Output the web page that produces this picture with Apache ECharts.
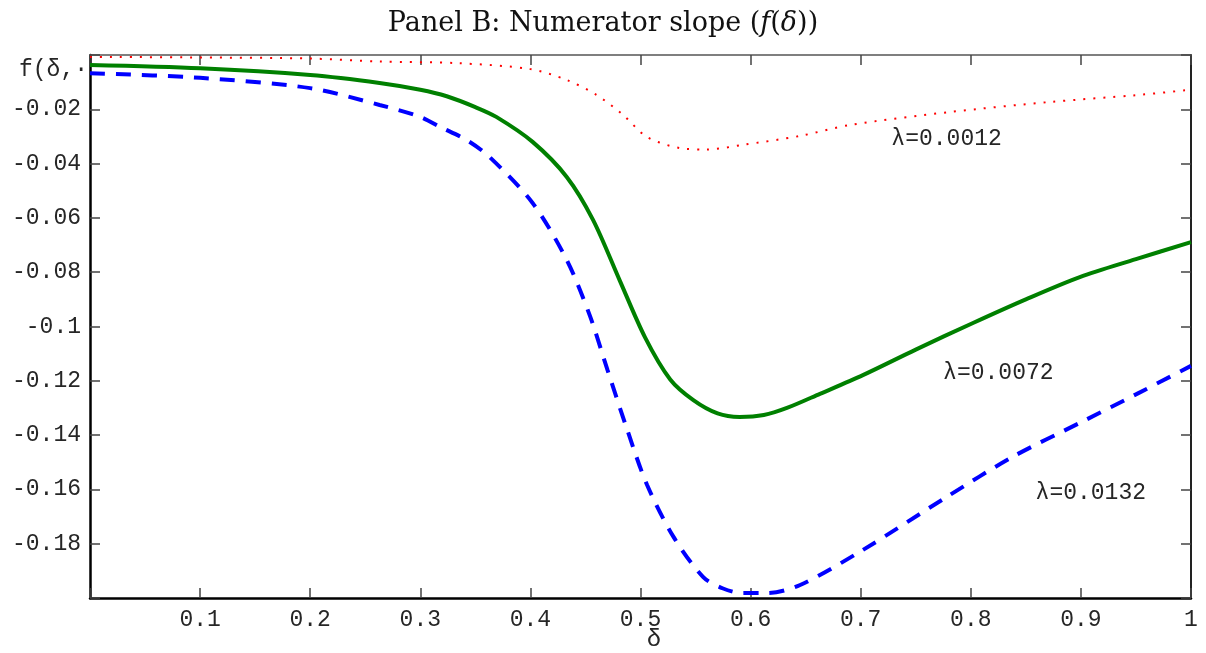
<!DOCTYPE html>
<html>
<head>
<meta charset="utf-8">
<script src="https://cdn.jsdelivr.net/npm/echarts@6/dist/echarts.min.js"></script>
<style>
html,body{margin:0;background:#fff}
#chart{width:1206px;height:653px}
</style>
</head>
<body>
<div id="chart"></div>
<script>
// values
const deltaRed = [0, 0.1, 0.2, 0.263, 0.334, 0.4, 0.433, 0.46, 0.484, 0.506, 0.536, 0.56, 0.593, 0.645, 0.69, 0.781, 0.872, 0.95, 1.0]
const redVals = [-0.0007, -0.0009, -0.0013, -0.0024, -0.003, -0.0052, -0.0092, -0.0147, -0.022, -0.0302, -0.0343, -0.0348, -0.0331, -0.0298, -0.0258, -0.021, -0.0173, -0.0148, -0.0128]

const deltaGreen = [0, 0.1, 0.2, 0.263, 0.3, 0.324, 0.35, 0.369, 0.402, 0.433, 0.457, 0.481, 0.504, 0.527, 0.548, 0.57, 0.59, 0.612, 0.633, 0.663, 0.702, 0.75, 0.802, 0.85, 0.899, 0.95, 1.0]
const greenVals = [-0.0037, -0.0049, -0.0074, -0.0103, -0.0128, -0.0152, -0.0192, -0.0228, -0.032, -0.0449, -0.0608, -0.0829, -0.1039, -0.1195, -0.1271, -0.132, -0.1333, -0.1326, -0.13, -0.1248, -0.1179, -0.1085, -0.0987, -0.09, -0.0818, -0.0752, -0.0689]

const deltaBlue = [0, 0.1, 0.2, 0.263, 0.3, 0.318, 0.342, 0.363, 0.402, 0.433, 0.454, 0.47, 0.488, 0.506, 0.53, 0.557, 0.575, 0.593, 0.615, 0.645, 0.702, 0.778, 0.838, 0.899, 0.95, 1.0]
const blueVals = [-0.0067, -0.0084, -0.0122, -0.0184, -0.0228, -0.0265, -0.0313, -0.0376, -0.0545, -0.0755, -0.096, -0.116, -0.1381, -0.1584, -0.1775, -0.1923, -0.1965, -0.1982, -0.1982, -0.1952, -0.1823, -0.1628, -0.148, -0.1355, -0.125, -0.1145]

const lambdaNames = ["λ=0.0012", "λ=0.0072", "λ=0.0132"]
const lambdaLabelAt = [[0.778, -0.0309], [0.825, -0.1171], [0.909, -0.1613]]

const mono = "Liberation Mono"
const txt = "#262626"

function pairs(xs, ys){
  return xs.map((x, i) => [x, ys[i]])
}

function lambdaMark(i){
  return {
    symbol: "circle",
    symbolSize: 0,
    silent: true,
    label: {show: true, position: "inside", color: txt, fontFamily: mono, fontSize: 23, formatter: lambdaNames[i]},
    data: [{coord: lambdaLabelAt[i]}]
  }
}

// every axis sits on the grid edge, not on zero
function frameAxis(pos, color, width, extra){
  return Object.assign({
    type: "value",
    position: pos,
    axisLine: {onZero: false, lineStyle: {color: color, width: width}},
    axisTick: {inside: true, length: 10, lineStyle: {color: "#444", width: 1.5}},
    axisLabel: {show: false},
    splitLine: {show: false}
  }, extra)
}

const chart = echarts.init(document.getElementById("chart"))
chart.setOption({
  animation: false,
  title: {
    text: "{n|Panel B: Numerator slope (}{i|f}{n|(}{i|δ}{n|))}",
    left: "center",
    top: 5,
    textStyle: {
      rich: {
        n: {fontFamily: "DejaVu Serif", fontWeight: "normal", fontSize: 27, color: "#111"},
        i: {fontFamily: "DejaVu Serif", fontWeight: "normal", fontStyle: "italic", fontSize: 27, color: "#111"}
      }
    }
  },
  grid: {left: 90, right: 15, top: 55, bottom: 55, outerBoundsMode: "none"},
  xAxis: [
    frameAxis("bottom", "#000", 2.5, {
      min: 0, max: 1, interval: 0.1,
      axisLabel: {margin: 10, fontFamily: mono, fontSize: 23, color: txt,
        formatter: v => v === 0 ? "" : String(+v.toFixed(2))}
    }),
    frameAxis("top", "#555", 1.5, {min: 0, max: 1, interval: 0.1})
  ],
  yAxis: [
    frameAxis("left", "#000", 2.5, {
      min: -0.2, max: 0, interval: 0.02,
      axisLabel: {margin: 9, fontFamily: mono, fontSize: 23, color: txt,
        formatter: v => (v === 0 || v <= -0.199) ? "" : String(+v.toFixed(2))}
    }),
    frameAxis("right", "#222", 2, {min: -0.2, max: 0, interval: 0.02})
  ],
  graphic: [
    {type: "text", left: 19, top: 58, z: 0,
      style: {text: "f(δ,·", font: "23px Liberation Mono", fill: txt}},
    {type: "text", x: 654, y: 640, z: 0,
      style: {text: "δ", font: "24px Liberation Mono", fill: txt, align: "center", verticalAlign: "middle"}}
  ],
  series: [
    {
      type: "line", name: lambdaNames[0], data: pairs(deltaRed, redVals),
      smooth: 0.3, showSymbol: false,
      lineStyle: {color: "#ff0000", width: 2, type: [2, 8]},
      markPoint: lambdaMark(0)
    },
    {
      type: "line", name: lambdaNames[1], data: pairs(deltaGreen, greenVals),
      smooth: 0.3, showSymbol: false,
      lineStyle: {color: "#008000", width: 4},
      markPoint: lambdaMark(1)
    },
    {
      type: "line", name: lambdaNames[2], data: pairs(deltaBlue, blueVals),
      smooth: 0.3, showSymbol: false,
      lineStyle: {color: "#0000ff", width: 4, type: [15, 11]},
      markPoint: lambdaMark(2)
    }
  ]
})
</script>
</body>
</html>
